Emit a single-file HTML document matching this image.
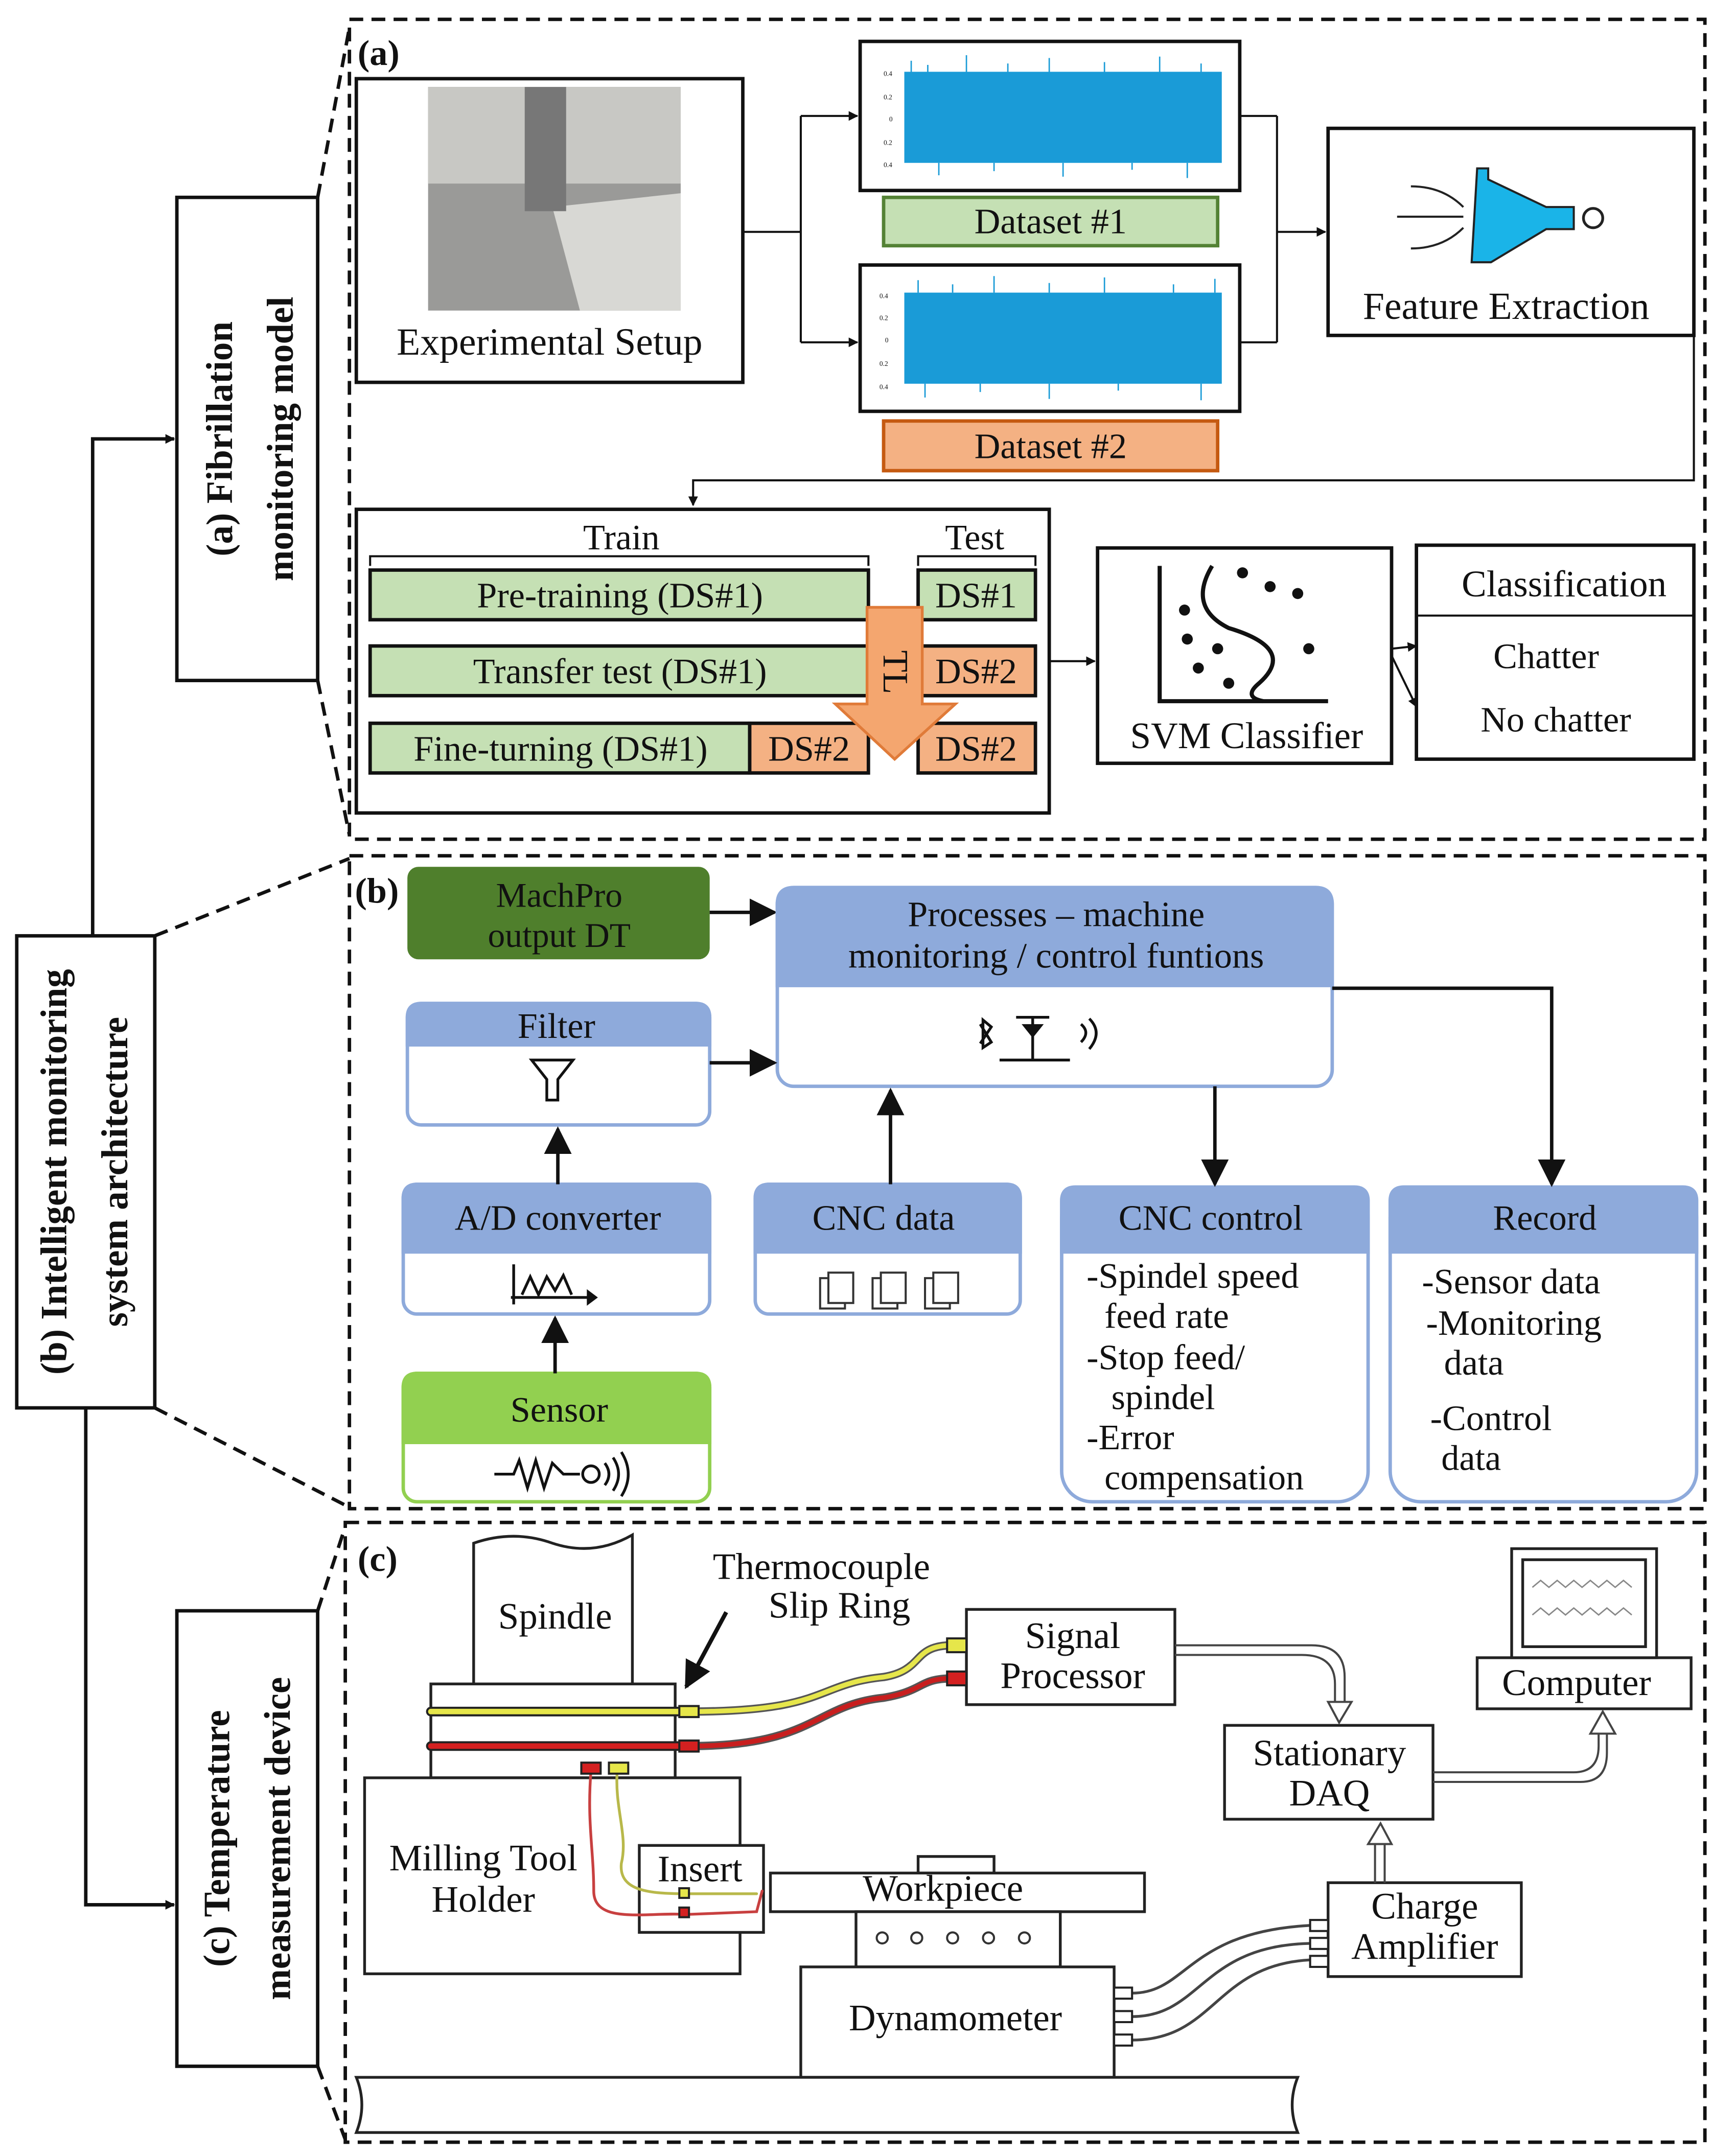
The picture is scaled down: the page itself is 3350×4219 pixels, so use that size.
<!DOCTYPE html>
<html><head><meta charset="utf-8">
<style>
html,body{margin:0;padding:0;background:#fff;}
svg{display:block;}
svg text{font-family:"Liberation Serif","Times New Roman",serif !important;fill:#111;}
</style></head>
<body>
<svg width="3350" height="4219" viewBox="0 0 1240 1562" xmlns="http://www.w3.org/2000/svg" font-family="Liberation Serif, serif">
<defs>
<marker id="ah" viewBox="0 0 10 10" refX="9" refY="5" markerWidth="7" markerHeight="7" orient="auto-start-reverse" markerUnits="userSpaceOnUse"><path d="M0,0 L10,5 L0,10 z" fill="#111"/></marker>
<marker id="ahb" viewBox="0 0 10 10" refX="9" refY="5" markerWidth="20" markerHeight="20" orient="auto" markerUnits="userSpaceOnUse"><path d="M0,0 L10,5 L0,10 z" fill="#111"/></marker>
</defs>
<rect width="1240" height="1562" fill="#fff"/>

<g fill="none" stroke="#111" stroke-width="2.5" stroke-dasharray="10,6">
<rect x="253" y="14" width="982" height="594"/>
<rect x="253" y="620" width="982" height="473"/>
<rect x="250" y="1103" width="985" height="449"/>
<line x1="230" y1="143" x2="253" y2="20"/>
<line x1="230" y1="493" x2="253" y2="605"/>
<line x1="112" y1="678" x2="253" y2="622"/>
<line x1="112" y1="1020" x2="253" y2="1092"/>
<line x1="230" y1="1167" x2="250" y2="1106"/>
<line x1="230" y1="1497" x2="250" y2="1550"/>
</g>

<g fill="#fff" stroke="#111" stroke-width="2.5">
<rect x="128" y="143" width="102" height="350"/>
<rect x="12" y="678" width="100" height="342"/>
<rect x="128" y="1167" width="102" height="330"/>
</g>
<g font-weight="bold" font-size="27" text-anchor="middle" font-family="Liberation Serif, serif">
<text transform="translate(168,318) rotate(-90)">(a) Fibrillation</text>
<text transform="translate(212,318) rotate(-90)">monitoring model</text>
<text transform="translate(48,849) rotate(-90)">(b) Intelligent monitoring</text>
<text transform="translate(92,849) rotate(-90)">system architecture</text>
<text transform="translate(166,1332) rotate(-90)">(c) Temperature</text>
<text transform="translate(210,1332) rotate(-90)">measurement device</text>
</g>
<g fill="none" stroke="#111" stroke-width="2.5">
<polyline points="67,678 67,318 126,318" marker-end="url(#ah)"/>
<polyline points="62,1020 62,1380 126,1380" marker-end="url(#ah)"/>
</g>

<!-- ===== Panel A ===== -->
<g font-family="Liberation Serif, serif">
<text x="259" y="47" font-size="26" font-weight="bold">(a)</text>
<rect x="258" y="57" width="280" height="220" fill="#fff" stroke="#111" stroke-width="2.5"/>
<rect x="310" y="63" width="183" height="162" fill="#9a9a98"/>
<rect x="310" y="63" width="183" height="70" fill="#c8c8c4"/>
<polygon points="400,150 493,140 493,225 420,225" fill="#d8d8d4"/>
<rect x="380" y="63" width="30" height="90" fill="#777"/>
<text x="398" y="257" font-size="28" text-anchor="middle">Experimental Setup</text>

<g stroke="#111" stroke-width="2.5" fill="#fff">
<rect x="623" y="30" width="275" height="108"/>
<rect x="623" y="192" width="275" height="106"/>
</g>
<g fill="#1a9bd7">
<rect x="655" y="52" width="230" height="66"/>
<rect x="655" y="212" width="230" height="66"/>
</g>
<g stroke="#1a9bd7" stroke-width="1">
<path d="M660,52 L660,44 M672,52 L672,47 M700,52 L700,40 M730,52 L730,46 M760,52 L760,42 M800,52 L800,45 M840,52 L840,41 M870,52 L870,46 M680,118 L680,127 M720,118 L720,124 M770,118 L770,128 M820,118 L820,123 M860,118 L860,129"/>
<path d="M665,212 L665,203 M690,212 L690,206 M720,212 L720,200 M760,212 L760,205 M800,212 L800,201 M850,212 L850,206 M880,212 L880,202 M670,278 L670,288 M710,278 L710,284 M760,278 L760,289 M810,278 L810,283 M870,278 L870,290"/>
</g>
<g font-size="5" fill="#555">
<text x="640" y="55">0.4</text><text x="640" y="72">0.2</text><text x="644" y="88">0</text><text x="640" y="105">0.2</text><text x="640" y="121">0.4</text>
<text x="637" y="216">0.4</text><text x="637" y="232">0.2</text><text x="641" y="248">0</text><text x="637" y="265">0.2</text><text x="637" y="282">0.4</text>
</g>
<rect x="640" y="143" width="242" height="35" fill="#c5e0b4" stroke="#548235" stroke-width="2.5"/>
<text x="761" y="169" font-size="26" text-anchor="middle">Dataset #1</text>
<rect x="640" y="305" width="242" height="36" fill="#f4b183" stroke="#c55a11" stroke-width="2.5"/>
<text x="761" y="332" font-size="26" text-anchor="middle">Dataset #2</text>

<g fill="none" stroke="#111" stroke-width="1.5">
<line x1="538" y1="168" x2="580" y2="168"/>
<line x1="580" y1="84" x2="580" y2="248"/>
<line x1="580" y1="84" x2="621" y2="84" marker-end="url(#ah)"/>
<line x1="580" y1="248" x2="621" y2="248" marker-end="url(#ah)"/>
<line x1="898" y1="84" x2="925" y2="84"/>
<line x1="898" y1="248" x2="925" y2="248"/>
<line x1="925" y1="84" x2="925" y2="248"/>
<line x1="925" y1="168" x2="960" y2="168" marker-end="url(#ah)"/>
<polyline points="1227,243 1227,348 502,348 502,366" marker-end="url(#ah)"/>
</g>

<rect x="962" y="93" width="265" height="150" fill="#fff" stroke="#111" stroke-width="2.5"/>
<g fill="none" stroke="#222" stroke-width="1.5">
<path d="M1012,157 L1060,157 M1022,135 Q1045,135 1060,150 M1022,180 Q1045,180 1060,165"/>
</g>
<polygon points="1070,122 1078,122 1078,130 1120,150 1140,150 1140,166 1120,166 1080,190 1066,190" fill="#1ab4e8" stroke="#222" stroke-width="1.5"/>
<circle cx="1154" cy="158" r="7" fill="#fff" stroke="#222" stroke-width="2"/>
<text x="1091" y="231" font-size="28" text-anchor="middle">Feature Extraction</text>

<rect x="258" y="369" width="502" height="220" fill="#fff" stroke="#111" stroke-width="2.5"/>
<text x="450" y="398" font-size="26" text-anchor="middle">Train</text>
<text x="706" y="398" font-size="26" text-anchor="middle">Test</text>
<g fill="none" stroke="#111" stroke-width="1.5">
<polyline points="268,410 268,403 629,403 629,410"/>
<polyline points="665,410 665,403 750,403 750,410"/>
</g>
<g stroke="#111" stroke-width="2.5">
<rect x="268" y="413" width="361" height="36" fill="#c5e0b4"/>
<rect x="665" y="413" width="85" height="36" fill="#c5e0b4"/>
<rect x="268" y="468" width="361" height="36" fill="#c5e0b4"/>
<rect x="665" y="468" width="85" height="36" fill="#f4b183"/>
<rect x="268" y="524" width="275" height="36" fill="#c5e0b4"/>
<rect x="543" y="524" width="86" height="36" fill="#f4b183"/>
<rect x="665" y="524" width="85" height="36" fill="#f4b183"/>
</g>
<polygon points="628,440 668,440 668,510 692,510 648,550 605,510 628,510" fill="#f4a66f" stroke="#e07b39" stroke-width="2"/>
<text transform="translate(640,487) rotate(90)" font-size="26" text-anchor="middle">TL</text>
<g font-size="26" text-anchor="middle">
<text x="449" y="440">Pre-training (DS#1)</text>
<text x="707" y="440">DS#1</text>
<text x="449" y="495">Transfer test (DS#1)</text>
<text x="707" y="495">DS#2</text>
<text x="406" y="551">Fine-turning (DS#1)</text>
<text x="586" y="551">DS#2</text>
<text x="707" y="551">DS#2</text>
</g>
<line x1="760" y1="479" x2="793" y2="479" stroke="#111" stroke-width="1.5" marker-end="url(#ah)"/>

<rect x="795" y="397" width="213" height="156" fill="#fff" stroke="#111" stroke-width="2.5"/>
<g stroke="#111" stroke-width="3" fill="none">
<polyline points="840,410 840,508 962,508"/>
<path d="M878,410 Q860,440 890,455 Q940,470 912,495 Q900,505 915,508"/>
</g>
<g fill="#111">
<circle cx="900" cy="415" r="4"/><circle cx="920" cy="425" r="4"/><circle cx="940" cy="430" r="4"/>
<circle cx="858" cy="442" r="4"/><circle cx="860" cy="463" r="4"/><circle cx="882" cy="470" r="4"/>
<circle cx="868" cy="484" r="4"/><circle cx="890" cy="495" r="4"/><circle cx="948" cy="470" r="4"/>
</g>
<text x="903" y="542" font-size="27" text-anchor="middle">SVM Classifier</text>

<rect x="1026" y="395" width="201" height="155" fill="#fff" stroke="#111" stroke-width="2.5"/>
<line x1="1026" y1="446" x2="1227" y2="446" stroke="#111" stroke-width="1.5"/>
<text x="1133" y="432" font-size="27" text-anchor="middle">Classification</text>
<text x="1120" y="484" font-size="26" text-anchor="middle">Chatter</text>
<text x="1127" y="530" font-size="26" text-anchor="middle">No chatter</text>
<g stroke="#111" stroke-width="1.5">
<line x1="1008" y1="470" x2="1026" y2="468" marker-end="url(#ah)"/>
<line x1="1008" y1="475" x2="1026" y2="512" marker-end="url(#ah)"/>
</g>

<!-- ===== Panel B ===== -->
<text x="257" y="654" font-size="26" font-weight="bold">(b)</text>
<rect x="295" y="628" width="219" height="67" rx="8" fill="#4f7f2c"/>
<text x="405" y="657" font-size="25" text-anchor="middle">MachPro</text>
<text x="405" y="686" font-size="25" text-anchor="middle">output DT</text>
<line x1="514" y1="661" x2="561" y2="661" stroke="#111" stroke-width="2.5" marker-end="url(#ahb)"/>

<g stroke="#8eaadb" stroke-width="2.5">
<rect x="563" y="643" width="402" height="144" rx="12" fill="#fff"/>
<path d="M563,714 L563,655 Q563,643 575,643 L953,643 Q965,643 965,655 L965,714 Z" fill="#8eaadb"/>
<rect x="295" y="727" width="219" height="88" rx="10" fill="#fff"/>
<path d="M295,757 L295,737 Q295,727 305,727 L504,727 Q514,727 514,737 L514,757 Z" fill="#8eaadb"/>
<rect x="292" y="858" width="222" height="94" rx="10" fill="#fff"/>
<path d="M292,907 L292,868 Q292,858 302,858 L504,858 Q514,858 514,868 L514,907 Z" fill="#8eaadb"/>
<rect x="547" y="858" width="192" height="94" rx="10" fill="#fff"/>
<path d="M547,907 L547,868 Q547,858 557,858 L729,858 Q739,858 739,868 L739,907 Z" fill="#8eaadb"/>
<rect x="769" y="860" width="222" height="228" rx="22" fill="#fff"/>
<path d="M769,907 L769,870 Q769,860 779,860 L981,860 Q991,860 991,870 L991,907 Z" fill="#8eaadb"/>
<rect x="1007" y="860" width="222" height="228" rx="22" fill="#fff"/>
<path d="M1007,907 L1007,870 Q1007,860 1017,860 L1219,860 Q1229,860 1229,870 L1229,907 Z" fill="#8eaadb"/>
</g>
<g stroke="#92d050" stroke-width="2.5">
<rect x="292" y="995" width="222" height="93" rx="10" fill="#fff"/>
<path d="M292,1045 L292,1005 Q292,995 302,995 L504,995 Q514,995 514,1005 L514,1045 Z" fill="#92d050"/>
</g>
<g font-size="26" text-anchor="middle">
<text x="765" y="671">Processes – machine</text>
<text x="765" y="701">monitoring / control funtions</text>
<text x="403" y="752">Filter</text>
<text x="404" y="891">A/D converter</text>
<text x="640" y="891">CNC data</text>
<text x="877" y="891">CNC control</text>
<text x="1119" y="891">Record</text>
<text x="405" y="1030">Sensor</text>
</g>
<g font-size="26">
<text x="787" y="933">-Spindel speed</text>
<text x="800" y="962">feed rate</text>
<text x="787" y="992">-Stop feed/</text>
<text x="805" y="1021">spindel</text>
<text x="787" y="1050">-Error</text>
<text x="800" y="1079">compensation</text>
<text x="1030" y="937">-Sensor data</text>
<text x="1033" y="967">-Monitoring</text>
<text x="1046" y="996">data</text>
<text x="1036" y="1036">-Control</text>
<text x="1044" y="1065">data</text>
</g>
<g fill="none" stroke="#111" stroke-width="2">
<path d="M385,768 L415,768 L404,782 L404,797 L396,797 L396,782 Z"/>
<path d="M370,940 L430,940 M372,945 L372,916 M378,938 L384,925 L390,938 L396,925 L402,935 L408,924 L414,938"/>
<path d="M748,737 L748,768 M736,737 L760,737 M724,768 L775,768"/>
<path d="M783,742 Q790,748 783,755 M789,738 Q799,748 789,760"/>
<path d="M710,742 L718,755 L712,759 L712,739 L718,744 L710,756"/>
<path d="M358,1068 L372,1068 L376,1058 L382,1078 L388,1058 L394,1078 L400,1060 L408,1068 L420,1068"/>
<circle cx="428" cy="1068" r="6"/>
<path d="M438,1060 Q444,1068 438,1076 M444,1056 Q452,1068 444,1080 M450,1052 Q460,1068 450,1084"/>
</g>
<polygon points="425,934 433,940 425,946" fill="#111"/>
<polygon points="740,742 756,742 748,752" fill="#111"/>
<g fill="#fff" stroke="#333" stroke-width="1.5">
<rect x="594" y="926" width="18" height="22"/><rect x="600" y="922" width="18" height="22"/>
<rect x="632" y="926" width="18" height="22"/><rect x="638" y="922" width="18" height="22"/>
<rect x="670" y="926" width="18" height="22"/><rect x="676" y="922" width="18" height="22"/>
</g>
<g stroke="#111" stroke-width="2.5" fill="none">
<line x1="514" y1="770" x2="561" y2="770" marker-end="url(#ahb)"/>
<line x1="404" y1="858" x2="404" y2="818" marker-end="url(#ahb)"/>
<line x1="402" y1="995" x2="402" y2="955" marker-end="url(#ahb)"/>
<line x1="645" y1="858" x2="645" y2="790" marker-end="url(#ahb)"/>
<line x1="880" y1="787" x2="880" y2="858" marker-end="url(#ahb)"/>
<polyline points="965,716 1124,716 1124,858" marker-end="url(#ahb)"/>
</g>

<!-- ===== Panel C ===== -->
<text x="259" y="1138" font-size="26" font-weight="bold">(c)</text>
<g fill="#fff" stroke="#222" stroke-width="2">
<path d="M343,1222 L343,1118 Q372,1108 400,1118 Q430,1128 458,1112 L458,1222 Z"/>
<rect x="312" y="1220" width="177" height="68"/>
<rect x="264" y="1288" width="272" height="142"/>
<rect x="463" y="1337" width="90" height="63"/>
<rect x="665" y="1345" width="55" height="12"/>
<rect x="558" y="1357" width="271" height="28"/>
<rect x="620" y="1385" width="148" height="40"/>
<rect x="580" y="1425" width="227" height="80"/>
<path d="M258,1505 L940,1505 Q932,1525 940,1545 L258,1545 Q266,1525 258,1505 Z"/>
<rect x="700" y="1166" width="151" height="69"/>
<rect x="887" y="1250" width="151" height="68"/>
<rect x="962" y="1364" width="140" height="68"/>
<rect x="1070" y="1201" width="155" height="37"/>
<rect x="1095" y="1122" width="105" height="79"/>
<rect x="1103" y="1130" width="89" height="63"/>
</g>
<g fill="none" stroke="#888" stroke-width="1">
<path d="M1110,1150 l6,-5 6,5 6,-5 6,5 6,-5 6,5 6,-5 6,5 6,-5 6,5 6,-5 6,5"/>
<path d="M1110,1170 l6,-5 6,5 6,-5 6,5 6,-5 6,5 6,-5 6,5 6,-5 6,5 6,-5 6,5"/>
</g>
<g fill="none" stroke="#333" stroke-width="1.5">
<circle cx="639" cy="1404" r="4"/><circle cx="664" cy="1404" r="4"/><circle cx="690" cy="1404" r="4"/><circle cx="716" cy="1404" r="4"/><circle cx="742" cy="1404" r="4"/>
</g>
<g fill="none" stroke-linecap="round">
<line x1="312" y1="1240" x2="492" y2="1240" stroke="#222" stroke-width="7"/>
<line x1="312" y1="1240" x2="492" y2="1240" stroke="#e6e64a" stroke-width="4"/>
<line x1="312" y1="1265" x2="492" y2="1265" stroke="#222" stroke-width="7"/>
<line x1="312" y1="1265" x2="492" y2="1265" stroke="#d42020" stroke-width="4"/>
<path d="M500,1240 C600,1240 590,1220 640,1215 C670,1210 660,1192 690,1192" stroke="#555" stroke-width="6"/>
<path d="M500,1240 C600,1240 590,1220 640,1215 C670,1210 660,1192 690,1192" stroke="#e6e64a" stroke-width="3.5"/>
<path d="M500,1265 C590,1265 590,1235 640,1230 C670,1225 665,1216 690,1216" stroke="#555" stroke-width="6"/>
<path d="M500,1265 C590,1265 590,1235 640,1230 C670,1225 665,1216 690,1216" stroke="#c81e1e" stroke-width="3.5"/>
<path d="M428,1283 C425,1320 430,1340 430,1370 C430,1395 470,1385 497,1387 L548,1385 L552,1370" stroke="#c84040" stroke-width="2"/>
<path d="M447,1283 C445,1310 455,1330 450,1350 C448,1370 470,1372 497,1372 L548,1372" stroke="#b8b84a" stroke-width="2"/>
<path d="M820,1444 C860,1444 860,1400 948,1395" stroke="#444" stroke-width="2"/>
<path d="M820,1461 C870,1461 870,1410 948,1408" stroke="#444" stroke-width="2"/>
<path d="M820,1478 C880,1478 880,1424 948,1420" stroke="#444" stroke-width="2"/>
</g>
<g stroke="#222" stroke-width="1.5">
<rect x="492" y="1236" width="14" height="8" fill="#e6e64a"/>
<rect x="492" y="1261" width="14" height="8" fill="#d42020"/>
<rect x="686" y="1187" width="14" height="10" fill="#e6e64a"/>
<rect x="686" y="1211" width="14" height="10" fill="#d42020"/>
<rect x="421" y="1277" width="14" height="8" fill="#d42020"/>
<rect x="441" y="1277" width="14" height="8" fill="#e6e64a"/>
<rect x="492" y="1368" width="7" height="7" fill="#e6e64a"/>
<rect x="492" y="1382" width="7" height="7" fill="#d42020"/>
<rect x="807" y="1440" width="13" height="8" fill="#fff"/>
<rect x="807" y="1457" width="13" height="8" fill="#fff"/>
<rect x="807" y="1474" width="13" height="8" fill="#fff"/>
<rect x="949" y="1391" width="13" height="8" fill="#fff"/>
<rect x="949" y="1404" width="13" height="8" fill="#fff"/>
<rect x="949" y="1417" width="13" height="8" fill="#fff"/>
</g>
<g fill="none" stroke="#444" stroke-width="1.5">
<path d="M851,1192 L950,1192 Q974,1192 974,1215 L974,1233 M851,1199 L943,1199 Q967,1199 967,1220 L967,1233"/>
<polygon points="962,1233 979,1233 970,1248" fill="#fff"/>
<path d="M1038,1284 L1140,1284 Q1158,1284 1158,1265 L1158,1255 M1038,1291 L1145,1291 Q1164,1291 1164,1270 L1164,1255"/>
<polygon points="1152,1256 1170,1256 1161,1240" fill="#fff"/>
<path d="M996,1364 L996,1335 M1003,1364 L1003,1335"/>
<polygon points="991,1336 1008,1336 1000,1321" fill="#fff"/>
</g>
<line x1="526" y1="1168" x2="497" y2="1222" stroke="#111" stroke-width="3" marker-end="url(#ahb)"/>
<g font-size="27" text-anchor="middle">
<text x="402" y="1180">Spindle</text>
<text x="595" y="1144">Thermocouple</text>
<text x="608" y="1172">Slip Ring</text>
<text x="777" y="1194">Signal</text>
<text x="777" y="1223">Processor</text>
<text x="963" y="1279">Stationary</text>
<text x="963" y="1308">DAQ</text>
<text x="1142" y="1228">Computer</text>
<text x="1032" y="1390">Charge</text>
<text x="1032" y="1419">Amplifier</text>
<text x="350" y="1355">Milling Tool</text>
<text x="350" y="1385">Holder</text>
<text x="507" y="1363">Insert</text>
<text x="683" y="1377">Workpiece</text>
<text x="692" y="1471">Dynamometer</text>
</g>
</g>
</svg>
</body></html>
